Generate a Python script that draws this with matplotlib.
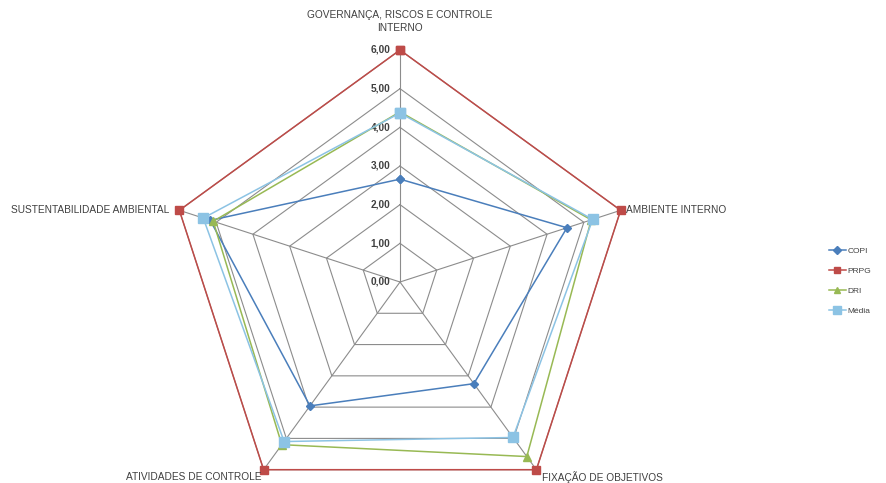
import numpy as np
import matplotlib
matplotlib.use("Agg")
import matplotlib.pyplot as plt
from matplotlib.lines import Line2D

# Dimensões avaliadas (eixos do radar, sentido horário a partir do topo)
categorias = [
    "GOVERNANÇA, RISCOS E CONTROLE\nINTERNO",
    "AMBIENTE INTERNO",
    "FIXAÇÃO DE OBJETIVOS",
    "ATIVIDADES DE CONTROLE",
    "SUSTENTABILIDADE AMBIENTAL",
]

# Pontuação de cada unidade por dimensão
copi = [2.66, 4.54, 3.25, 3.96, 5.16]
prpg = [6.00, 6.00, 6.00, 6.00, 6.00]
dri = [4.40, 5.20, 5.58, 5.20, 5.08]
media = [4.37, 5.24, 4.97, 5.10, 5.35]

niveis = [0, 1, 2, 3, 4, 5, 6]
rotulos_niveis = ["0,00", "1,00", "2,00", "3,00", "4,00", "5,00", "6,00"]

series = [
    ("COPI", copi, "#4A7EBB", "D", 4.5),
    ("PRPG", prpg, "#BE4B48", "s", 6.0),
    ("DRI", dri, "#98B954", "^", 5.5),
    ("Média", media, "#8CC3E4", "s", 6.5),
]

n = len(categorias)
ang = np.arange(n) * 2 * np.pi / n
ang_fech = np.append(ang, ang[0])

fig = plt.figure(figsize=(8.87, 4.83), dpi=100)
fig.patch.set_facecolor("white")

W, H = 887, 483
cx, cy, R = 400, 282, 232
ax = fig.add_axes([(cx - R) / W, (H - cy - R) / H, 2 * R / W, 2 * R / H],
                  projection="polar")
ax.set_theta_offset(np.pi / 2)
ax.set_theta_direction(-1)
ax.set_ylim(0, 6)
ax.grid(False)
ax.set_xticks([])
ax.set_yticks([])
ax.spines["polar"].set_visible(False)
ax.patch.set_alpha(0)

grid_color = "#8C8C8C"
# malha poligonal
for r in niveis[1:]:
    ax.plot(ang_fech, [r] * (n + 1), color=grid_color, lw=0.8, zorder=1,
            clip_on=False)
for a in ang:
    ax.plot([a, a], [0, 6], color=grid_color, lw=0.8, zorder=1, clip_on=False)

# rótulos da escala no eixo superior
for r, txt in zip(niveis, rotulos_niveis):
    ax.annotate(txt, xy=(0, r), xytext=(-7, 0), textcoords="offset points",
                ha="right", va="center", fontsize=7.3, fontweight="bold",
                color="#404040", family="Liberation Sans")

# séries
for nome, vals, cor, mk, ms in series:
    v = np.append(vals, vals[0])
    ax.plot(ang_fech, v, color=cor, lw=1.1, marker=mk, markersize=ms,
            markeredgecolor=cor, markerfacecolor=cor, zorder=3, clip_on=False,
            label=nome)

# rótulos das dimensões
txt_kw = dict(fontsize=7.3, color="#404040", family="Liberation Sans")
ax.annotate(categorias[0], xy=(ang[0], 6), xytext=(0, 12),
            textcoords="offset points", ha="center", va="bottom",
            linespacing=1.45, **txt_kw)
ax.annotate(categorias[1], xy=(ang[1], 6), xytext=(4, 0),
            textcoords="offset points", ha="left", va="center", **txt_kw)
ax.annotate(categorias[2], xy=(ang[2], 6), xytext=(4, -5),
            textcoords="offset points", ha="left", va="center", **txt_kw)
ax.annotate(categorias[3], xy=(ang[3], 6), xytext=(-50, -5),
            textcoords="offset points", ha="center", va="center", **txt_kw)
ax.annotate(categorias[4], xy=(ang[4], 6), xytext=(-7, 0),
            textcoords="offset points", ha="right", va="center", **txt_kw)

# legenda
handles = [Line2D([0], [0], color=c, lw=1.1, marker=m, markersize=ms * 0.8,
                  markerfacecolor=c, markeredgecolor=c)
           for _, _, c, m, ms in series]
fig.legend(handles, [s[0] for s in series], loc="center left",
           bbox_to_anchor=(829 / W, (H - 281) / H), frameon=False,
           prop={"family": "Liberation Sans", "size": 6.0},
           labelcolor="#404040", handlelength=2.0, handletextpad=0.2,
           labelspacing=1.45, borderpad=0, borderaxespad=0)

fig.savefig("out.png", dpi=100, facecolor="white")
